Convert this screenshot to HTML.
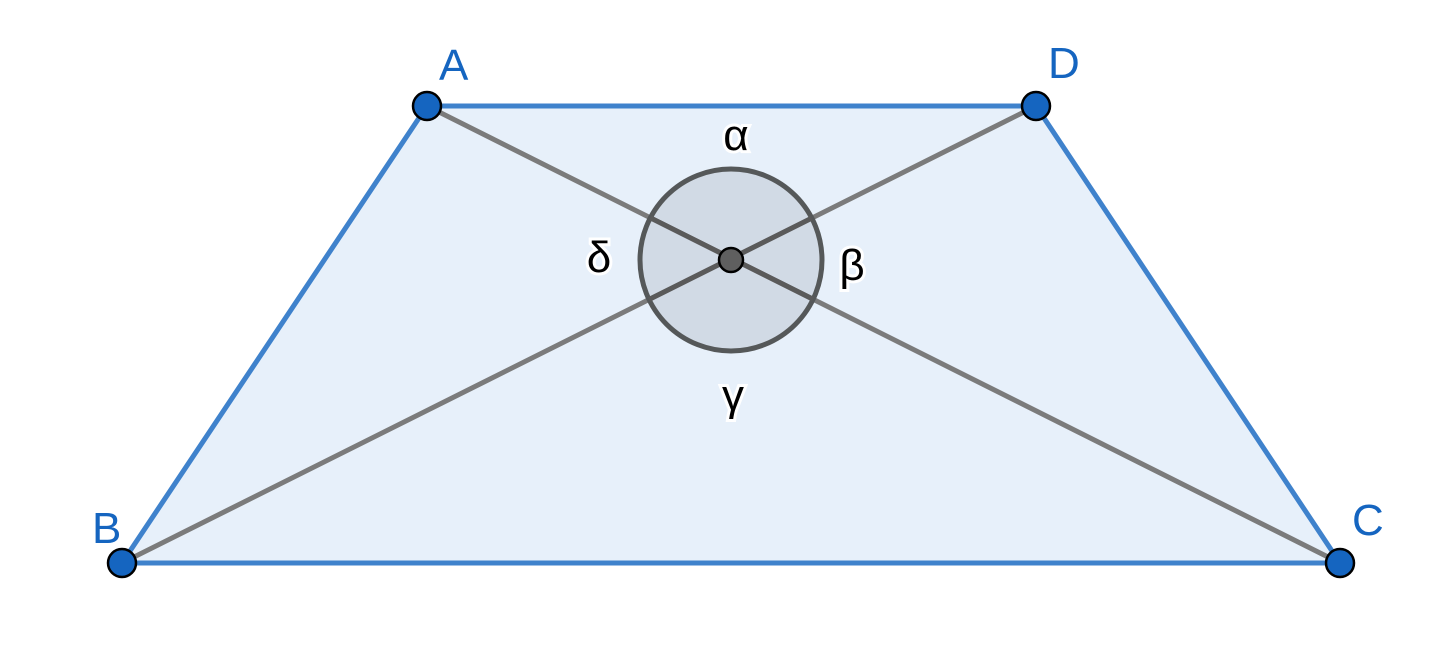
<!DOCTYPE html>
<html><head><style>html,body{margin:0;padding:0;background:#fff}</style></head><body>
<svg width="1456" height="640" viewBox="0 0 1456 640" xmlns="http://www.w3.org/2000/svg">
<polygon points="427,106 1036,106 1340,563 122,563" fill="#e7f0fa" stroke="#3f82cc" stroke-width="5" stroke-linejoin="round"/>
<line x1="427" y1="106" x2="1340" y2="563" stroke="#7b7b7b" stroke-width="5"/>
<line x1="1036" y1="106" x2="122" y2="563" stroke="#7b7b7b" stroke-width="5"/>
<circle cx="731" cy="260" r="91" fill="#5a6070" fill-opacity="0.15" stroke="#555859" stroke-width="5"/>
<clipPath id="c"><circle cx="731" cy="260" r="91"/></clipPath>
<g clip-path="url(#c)">
<line x1="427" y1="106" x2="1340" y2="563" stroke="#5a5a5a" stroke-width="5"/>
<line x1="1036" y1="106" x2="122" y2="563" stroke="#5a5a5a" stroke-width="5"/>
</g>
<circle cx="731" cy="260" r="12" fill="#5f5f5f" stroke="#000" stroke-width="2.5"/>
<g fill="#1565c0" stroke="#000" stroke-width="2.5">
<circle cx="427" cy="106" r="14"/><circle cx="1036" cy="106" r="14"/>
<circle cx="122" cy="563" r="14"/><circle cx="1340" cy="563" r="14"/>
</g>
<g font-family="Liberation Sans, DejaVu Sans, sans-serif" font-size="44" fill="#1565c0">
<text x="439" y="80">A</text><text x="1048" y="78">D</text>
<text x="92" y="543">B</text><text x="1352" y="535">C</text>
</g>
<g font-family="Liberation Sans, DejaVu Sans, sans-serif" font-size="44" fill="#000" stroke="#fff" stroke-width="6" paint-order="stroke" text-anchor="middle">
<text x="736" y="150">α</text><text x="599" y="272">δ</text>
<text x="852" y="280">β</text><text x="733" y="410">γ</text>
</g>
</svg>
</body></html>
